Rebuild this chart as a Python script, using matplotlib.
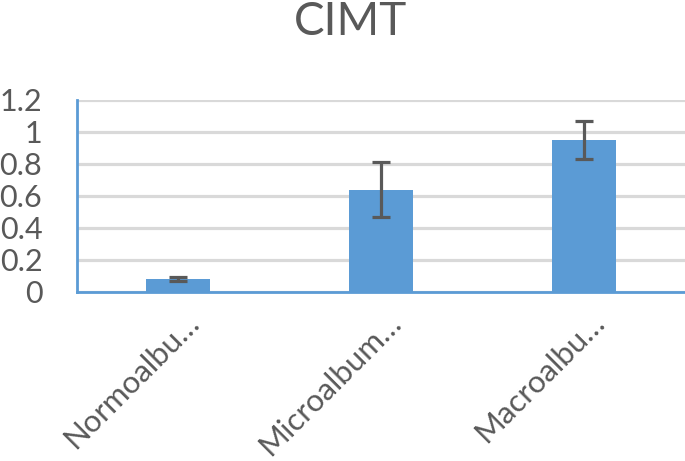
import numpy as np
import matplotlib
matplotlib.use("Agg")
import matplotlib.pyplot as plt
from matplotlib.transforms import ScaledTranslation

# values
groups = ["Normoalbu…", "Microalbum…", "Macroalbu…"]
cimt = [0.08, 0.64, 0.95]
cimt_err = [0.012, 0.172, 0.12]
yticks = [0, 0.2, 0.4, 0.6, 0.8, 1, 1.2]
ytick_labels = ["0", "0.2", "0.4", "0.6", "0.8", "1", "1.2"]

plt.rcParams["font.family"] = ["Lato", "DejaVu Sans"]
text_col = "#595959"
bar_col = "#5B9BD5"

fig = plt.figure(figsize=(6.85, 4.61), dpi=100)
ax = fig.add_axes([0.1124, 0.3666, 1.0 - 0.1124, 0.4165])

x = np.arange(len(groups))
ax.bar(x, cimt, width=0.316, color=bar_col, zorder=3)
ax.errorbar(x, cimt, yerr=cimt_err, fmt="none", ecolor=text_col,
            elinewidth=2.3, capsize=6.5, capthick=2.3, zorder=4)

ax.set_xlim(-0.5, 2.5)
ax.set_ylim(0, 1.2)
ax.set_yticks(yticks)
ax.set_yticklabels(ytick_labels, fontsize=22, color=text_col)
ax.set_xticks(x)
ax.set_xticklabels(groups, fontsize=22.5, color=text_col, rotation=45,
                   ha="right", va="baseline", rotation_mode="anchor")
ax.tick_params(axis="both", length=0)
ax.tick_params(axis="y", pad=25)
ax.tick_params(axis="x", pad=0)
# shift the rotated labels so their ends sit right/below each bar
shift = ScaledTranslation(0.22, -0.32, fig.dpi_scale_trans)
for lbl in ax.get_xticklabels():
    lbl.set_transform(lbl.get_transform() + shift)

ax.grid(axis="y", color="#D9D9D9", linewidth=2.3, zorder=0)
for s in ["top", "right"]:
    ax.spines[s].set_visible(False)
for s in ["left", "bottom"]:
    ax.spines[s].set_color(bar_col)
    ax.spines[s].set_linewidth(2)
    ax.spines[s].set_zorder(5)

fig.text(0.511, 0.924, "CIMT", fontsize=33, color=text_col,
         ha="center", va="baseline")

fig.savefig("out.png", dpi=100)
